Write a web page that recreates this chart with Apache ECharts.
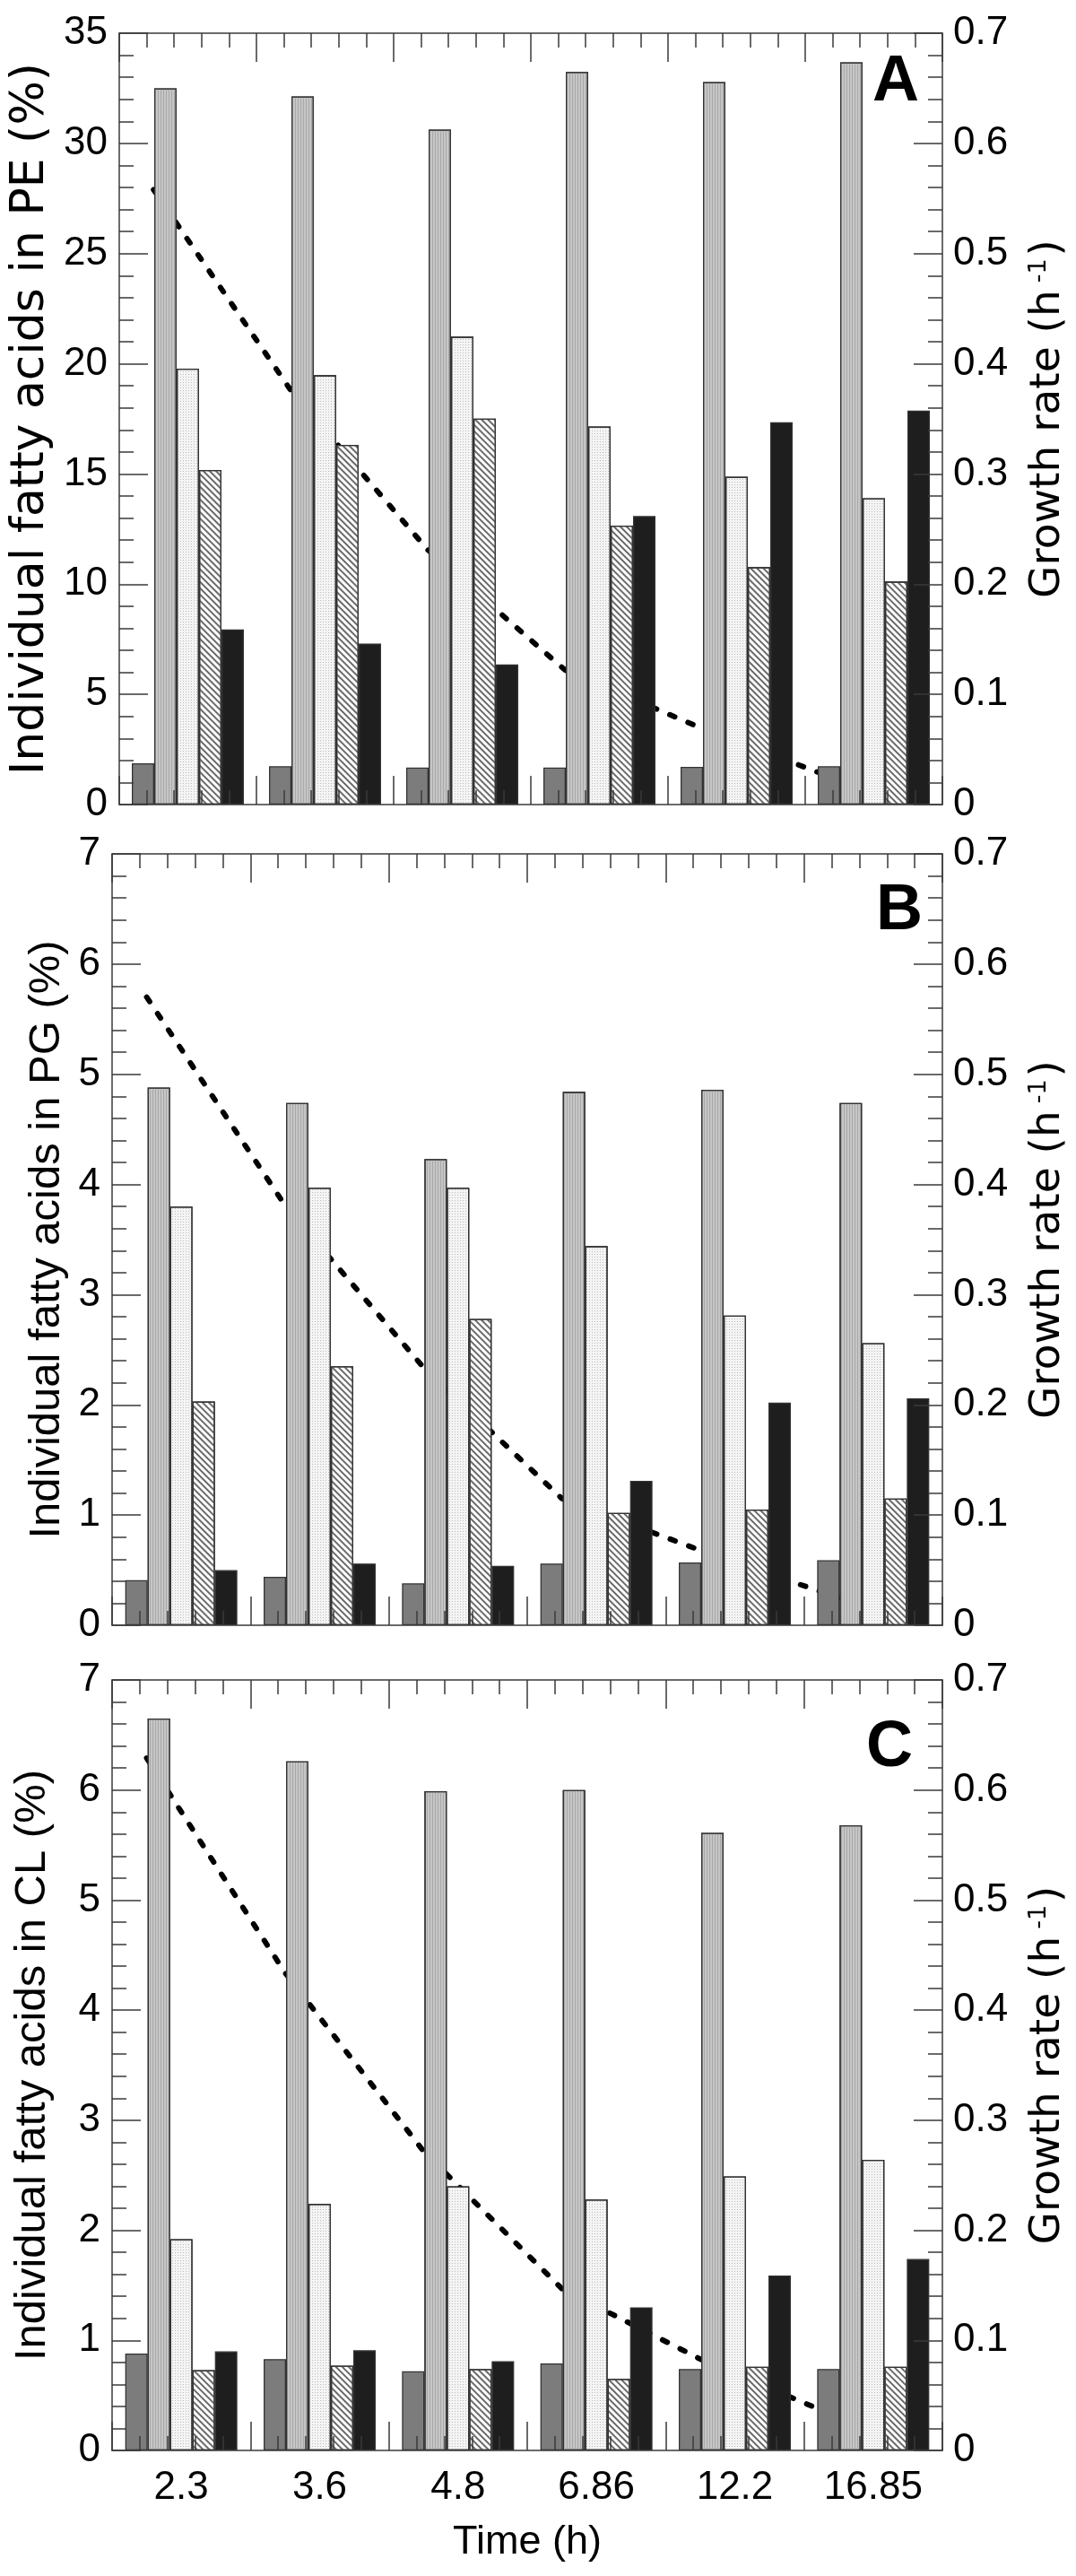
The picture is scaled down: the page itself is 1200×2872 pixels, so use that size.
<!DOCTYPE html>
<html>
<head>
<meta charset="utf-8">
<script src="https://cdn.jsdelivr.net/npm/echarts@6/dist/echarts.min.js"></script>
<style>
  html, body { margin: 0; padding: 0; background: #fff; }
  #chart { width: 1200px; height: 2872px; }
</style>
</head>
<body>
<div id="chart"></div>
<script>
// ---------- data ----------
const categories = ['2.3', '3.6', '4.8', '6.86', '12.2', '16.85'];
const seriesNames = ['Fatty acid 1', 'Fatty acid 2', 'Fatty acid 3', 'Fatty acid 4', 'Fatty acid 5'];
const leftTicksPE = [0, 5, 10, 15, 20, 25, 30, 35];
const leftTicksPG = [0, 1, 2, 3, 4, 5, 6, 7];
const rightTicks = [0, 0.1, 0.2, 0.3, 0.4, 0.5, 0.6, 0.7];

// Panel A: PE
const peFA1 = [1.87, 1.74, 1.68, 1.68, 1.71, 1.74];
const peFA2 = [32.5, 32.13, 30.63, 33.24, 32.78, 33.68];
const peFA3 = [19.78, 19.48, 21.23, 17.15, 14.87, 13.9];
const peFA4 = [15.18, 16.32, 17.51, 12.66, 10.77, 10.12];
const peFA5 = [7.95, 7.31, 6.36, 13.09, 17.35, 17.88];
const peGrowth = [0.558, 0.376, 0.231, 0.122, 0.069, 0.022];

// Panel B: PG
const pgFA1 = [0.41, 0.44, 0.38, 0.56, 0.57, 0.59];
const pgFA2 = [4.88, 4.74, 4.23, 4.84, 4.86, 4.74];
const pgFA3 = [3.80, 3.97, 3.97, 3.44, 2.81, 2.56];
const pgFA4 = [2.03, 2.35, 2.78, 1.02, 1.05, 1.15];
const pgFA5 = [0.50, 0.56, 0.54, 1.31, 2.02, 2.06];
const pgGrowth = [0.570, 0.381, 0.234, 0.115, 0.068, 0.025];

// Panel C: CL
const clFA1 = [0.88, 0.83, 0.72, 0.79, 0.74, 0.74];
const clFA2 = [6.65, 6.26, 5.99, 6.00, 5.61, 5.68];
const clFA3 = [1.92, 2.24, 2.40, 2.28, 2.49, 2.64];
const clFA4 = [0.73, 0.77, 0.74, 0.65, 0.76, 0.76];
const clFA5 = [0.90, 0.91, 0.81, 1.30, 1.59, 1.74];
const clGrowth = [0.629, 0.434, 0.272, 0.147, 0.083, 0.030];

const panelLetters = ['A', 'B', 'C'];
const leftTitles = ['Individual fatty acids in PE (%)', 'Individual fatty acids in PG (%)', 'Individual fatty acids in CL (%)'];
const rightTitle = 'Growth rate (h';
const rightTitleSup = '-1';
const xTitle = 'Time (h)';

// ---------- layout / style ----------
const AXIS_COLOR = '#3a3a3a';
const LINE_OFFSET = 0.25; // growth-rate points sit a quarter category in from each group start
const grids = [
  { left: 125, right: 147, top: 37, height: 860 },
  { left: 125, right: 147, top: 952, height: 860 },
  { left: 125, right: 147, top: 1873, height: 859 }
];
const leftNameFont = [
  { fontFamily: 'DejaVu Sans', fontSize: 52, gap: 73 },
  { fontFamily: 'Liberation Sans', fontSize: 49, gap: 47 },
  { fontFamily: 'Liberation Sans', fontSize: 49, gap: 64 }
];
const letterPos = [
  { x: 1025, y: 92 },
  { x: 1029, y: 1016 },
  { x: 1018, y: 1949 }
];

const barStyles = [
  { color: '#7c7c7c' },
  { color: '#c6c6c6', decal: { symbol: 'rect', symbolSize: 1, dashArrayX: [1, 0], dashArrayY: [1, 2], rotation: Math.PI / 2, color: '#a8a8a8' } },
  { color: '#f4f4f4', decal: { symbol: 'rect', symbolSize: 1, dashArrayX: [1, 2], dashArrayY: [1, 2], color: '#bdbdbd' } },
  { color: '#ffffff', decal: { symbol: 'rect', symbolSize: 1, dashArrayX: [1, 0], dashArrayY: [1.2, 3], rotation: Math.PI / 4, color: '#6a6a6a' } },
  { color: '#1e1e1e' }
];

const panelData = [
  { fa: [peFA1, peFA2, peFA3, peFA4, peFA5], growth: peGrowth, ticks: leftTicksPE },
  { fa: [pgFA1, pgFA2, pgFA3, pgFA4, pgFA5], growth: pgGrowth, ticks: leftTicksPG },
  { fa: [clFA1, clFA2, clFA3, clFA4, clFA5], growth: clGrowth, ticks: leftTicksPG }
];

const xAxes = [], yAxes = [], series = [], graphics = [];
const axisLineStyle = { color: AXIS_COLOR, width: 1.5 };

panelData.forEach((p, k) => {
  const isLast = k === panelData.length - 1;
  // category axis for bars
  xAxes.push({
    gridIndex: k, type: 'category', data: categories, position: 'bottom',
    boundaryGap: true,
    axisLine: { show: false }, axisTick: { show: false },
    axisLabel: { show: isLast, fontFamily: 'Liberation Sans', fontSize: 44, color: '#000', margin: 20 },
    name: isLast ? xTitle : '', nameLocation: 'middle', nameGap: 80,
    nameTextStyle: { fontFamily: 'Liberation Sans', fontSize: 45, color: '#000' },
    z: 1
  });
  // value axes for frame ticks (bottom, top)
  ['bottom', 'top'].forEach(pos => {
    xAxes.push({
      gridIndex: k, type: 'value', position: pos, min: 0, max: categories.length, interval: 1,
      axisLine: { show: true, onZero: false, lineStyle: axisLineStyle },
      axisTick: { show: true, inside: true, length: 32, lineStyle: axisLineStyle },
      minorTick: { show: true, splitNumber: 5, length: 16, lineStyle: axisLineStyle },
      axisLabel: { show: false }, splitLine: { show: false }, minorSplitLine: { show: false },
      z: 5
    });
  });
  const lf = leftNameFont[k];
  const yMax = p.ticks[p.ticks.length - 1];
  yAxes.push({
    gridIndex: k, type: 'value', position: 'left', min: 0, max: yMax, interval: p.ticks[1] - p.ticks[0],
    axisLine: { show: true, onZero: false, lineStyle: axisLineStyle },
    axisTick: { show: true, inside: true, length: 32, lineStyle: axisLineStyle },
    minorTick: { show: true, splitNumber: 5, length: 16, lineStyle: axisLineStyle },
    axisLabel: { fontFamily: 'Liberation Sans', fontSize: 44, color: '#000', margin: 13 },
    splitLine: { show: false },
    name: leftTitles[k], nameLocation: 'middle', nameGap: lf.gap,
    nameTextStyle: { fontFamily: lf.fontFamily, fontSize: lf.fontSize, color: '#000' },
    z: 5
  });
  yAxes.push({
    gridIndex: k, type: 'value', position: 'right', min: 0, max: rightTicks[rightTicks.length - 1], interval: rightTicks[1] - rightTicks[0],
    axisLine: { show: true, onZero: false, lineStyle: axisLineStyle },
    axisTick: { show: true, inside: true, length: 32, lineStyle: axisLineStyle },
    minorTick: { show: true, splitNumber: 5, length: 16, lineStyle: axisLineStyle },
    axisLabel: { fontFamily: 'Liberation Sans', fontSize: 44, color: '#000', margin: 12,
      formatter: v => (v === 0 ? '0' : v.toFixed(1)) },
    splitLine: { show: false },
    name: '{t|' + rightTitle + '}{s|' + rightTitleSup + '}{t|)}', nameLocation: 'middle', nameGap: 94,
    nameTextStyle: {
      color: '#000',
      rich: {
        t: { fontFamily: 'DejaVu Sans', fontSize: 47, color: '#000' },
        s: { fontFamily: 'DejaVu Sans', fontSize: 27, color: '#000', verticalAlign: 'top', padding: [0, 3, 0, 8] }
      }
    },
    z: 5
  });

  // growth-rate dashed line (behind bars)
  series.push({
    type: 'line', name: 'Growth rate', xAxisIndex: 3 * k + 1, yAxisIndex: 2 * k + 1,
    data: p.growth.map((v, i) => [i + LINE_OFFSET, v]),
    symbol: 'none', silent: true, z: 1,
    lineStyle: { color: '#000', width: 6, type: [6, 16], cap: 'round' }
  });
  p.fa.forEach((arr, j) => {
    series.push({
      type: 'bar', name: seriesNames[j], xAxisIndex: 3 * k, yAxisIndex: 2 * k,
      data: arr, barWidth: 25, barGap: '0%', z: 2,
      itemStyle: Object.assign({ borderColor: '#333333', borderWidth: 1.3 }, barStyles[j]),
      emphasis: { disabled: true }
    });
  });

  graphics.push({
    type: 'text', x: letterPos[k].x, y: letterPos[k].y, z: 10,
    style: { text: panelLetters[k], fill: '#000', font: 'bold 72px "Liberation Sans"', textAlign: 'right', textVerticalAlign: 'middle' }
  });
});

const chart = echarts.init(document.getElementById('chart'), null, { renderer: 'canvas', width: 1200, height: 2872 });
chart.setOption({
  backgroundColor: '#ffffff',
  animation: false,
  grid: grids,
  xAxis: xAxes,
  yAxis: yAxes,
  series: series,
  graphic: graphics
});
</script>
</body>
</html>
